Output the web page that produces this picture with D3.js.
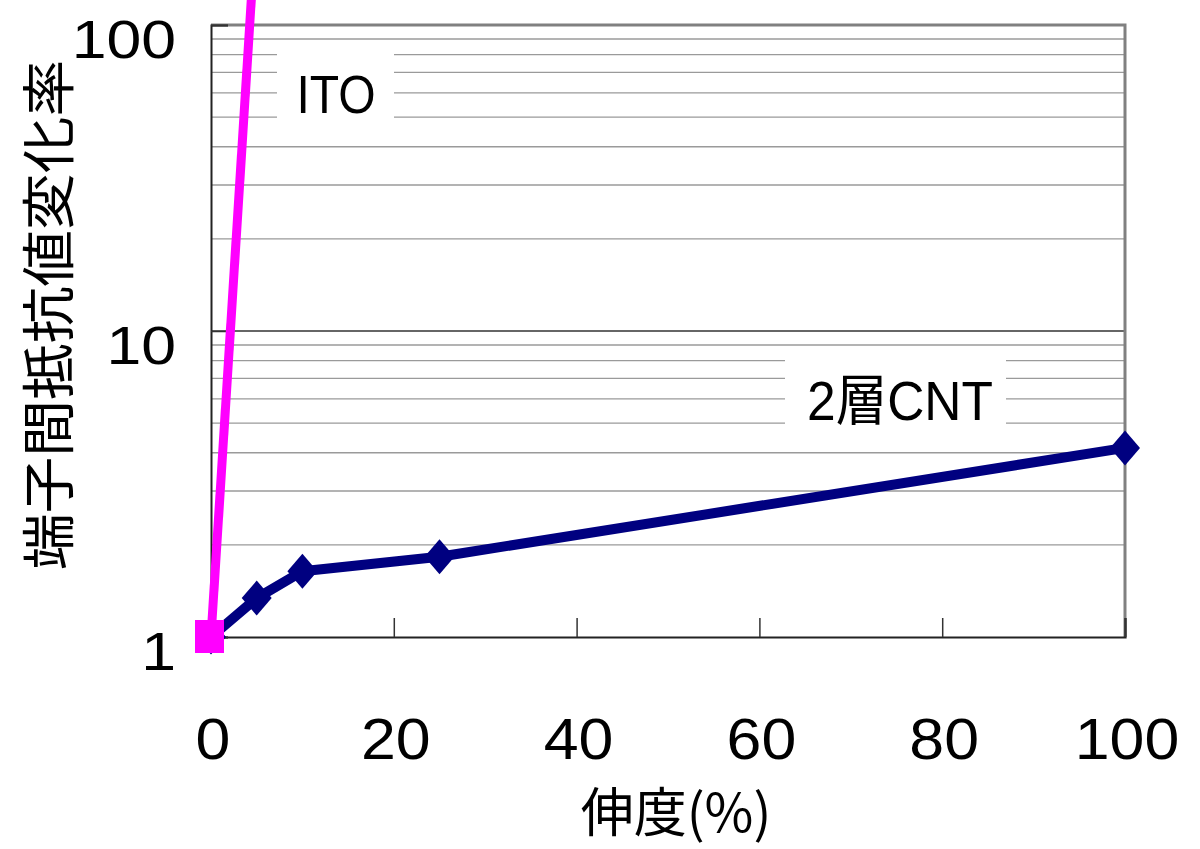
<!DOCTYPE html>
<html>
<head>
<meta charset="utf-8">
<script src="https://cdn.jsdelivr.net/npm/d3@7"></script>
<style>
  html, body { margin: 0; padding: 0; background: #fff; }
  svg { display: block; }
</style>
</head>
<body>
<svg id="chart" width="1200" height="849"></svg>
<script>
// Strain (%) and relative change of terminal resistance
const strain = [0, 5, 10, 25, 100];
const cntValues = [1, 1.34, 1.64, 1.83, 4.15];
const itoStrain = [0, 5];
const itoValues = [1, 230];
const xTickValues = [0, 20, 40, 60, 80, 100];
const yTickValues = [1, 10, 100];
const minorGridValues = [2, 3, 4, 5, 6, 7, 8, 9, 20, 30, 40, 50, 60, 70, 80, 90];
const seriesLabels = ["2層CNT", "ITO"];
const xTitle = "伸度(%)";
const yTitle = "端子間抵抗値変化率";

const W = 1200, H = 849;
const plot = { left: 211, right: 1125, top: 25, bottom: 637 };
const latin = "'Liberation Sans', Arial, 'Noto Sans CJK JP', sans-serif";
const cjk = "'Noto Sans CJK JP', 'Noto Sans CJK SC', sans-serif";

const svg = d3.select("#chart");
svg.append("rect").attr("width", W).attr("height", H).attr("fill", "#fff");

const x = d3.scaleLinear().domain([0, 100]).range([plot.left, plot.right]);
const y = d3.scaleLog().domain([1, 100]).range([plot.bottom, plot.top]);

// minor gridlines
svg.append("g")
  .selectAll("line")
  .data(minorGridValues)
  .join("line")
  .attr("x1", plot.left).attr("x2", plot.right)
  .attr("y1", d => y(d)).attr("y2", d => y(d))
  .attr("stroke", "#9a9a9a").attr("stroke-width", 1.4);

// major gridline at 10
svg.append("line")
  .attr("x1", plot.left).attr("x2", plot.right)
  .attr("y1", y(10)).attr("y2", y(10))
  .attr("stroke", "#333").attr("stroke-width", 1.6);

// label boxes (white backing over the grid)
const labelBoxes = [
  { text: seriesLabels[1], x0: 277, x1: 394, y0: 45, y1: 131, cx: 336, base: 113, size: 54, sx: 0.89 },
  { text: seriesLabels[0], x0: 785, x1: 1006, y0: 352, y1: 440, cx: 900, base: 420, size: 56, sx: 0.92 }
];
svg.append("g").selectAll("rect")
  .data(labelBoxes).join("rect")
  .attr("x", d => d.x0).attr("y", d => d.y0)
  .attr("width", d => d.x1 - d.x0).attr("height", d => d.y1 - d.y0)
  .attr("fill", "#fff");
svg.append("g").selectAll("text")
  .data(labelBoxes).join("text")
  .attr("transform", d => `translate(${d.cx},${d.base}) scale(${d.sx},1)`)
  .attr("text-anchor", "middle")
  .attr("font-family", latin)
  .attr("font-size", d => d.size)
  .attr("fill", "#000")
  .text(d => d.text);

// frame: top and right borders
svg.append("path")
  .attr("d", `M${plot.left},${plot.top}H${plot.right}V${plot.bottom}`)
  .attr("fill", "none").attr("stroke", "#808080").attr("stroke-width", 3);

// x axis (ticks pointing into the plot)
const xAxis = d3.axisBottom(x).tickValues(xTickValues).tickSize(-19).tickFormat("");
const gx = svg.append("g").attr("transform", `translate(0,${plot.bottom})`).call(xAxis);
gx.select(".domain").attr("stroke", "#222").attr("stroke-width", 2.2);
gx.selectAll(".tick line").attr("stroke", "#333").attr("stroke-width", 1.5);

// y axis (ticks pointing into the plot)
const yAxis = d3.axisLeft(y).tickValues(yTickValues).tickSize(-17).tickFormat("");
const gy = svg.append("g").attr("transform", `translate(${plot.left},0)`).call(yAxis);
gy.select(".domain").attr("stroke", "#222").attr("stroke-width", 2);
gy.selectAll(".tick line").attr("stroke", "#333").attr("stroke-width", 1.5);

// tick labels
svg.append("g").selectAll("text")
  .data(xTickValues).join("text")
  .attr("transform", d => `translate(${x(d) + 2},${plot.bottom + 122}) scale(1.08,1)`)
  .attr("text-anchor", "middle")
  .attr("font-family", latin).attr("font-size", 58)
  .text(d => d);
svg.append("g").selectAll("text")
  .data(yTickValues).join("text")
  .attr("transform", d => `translate(${plot.left - 35},${y(d) + 33}) scale(1.18,1)`)
  .attr("text-anchor", "end")
  .attr("font-family", latin).attr("font-size", 53)
  .text(d => d);

// series: 2層CNT
const line = d3.line().x(d => x(d[0])).y(d => y(d[1]));
const cntPts = strain.map((s, i) => [s, cntValues[i]]);
svg.append("path")
  .attr("d", line(cntPts))
  .attr("fill", "none").attr("stroke", "#000080").attr("stroke-width", 10)
  .attr("stroke-linejoin", "round");
svg.append("g").selectAll("path")
  .data(cntPts).join("path")
  .attr("d", d => {
    const cx = x(d[0]), cy = y(d[1]), w = 15, h = 17.5;
    return `M${cx},${cy - h}L${cx + w},${cy}L${cx},${cy + h}L${cx - w},${cy}Z`;
  })
  .attr("fill", "#000080");

// series: ITO
const itoPts = itoStrain.map((s, i) => [s, itoValues[i]]);
svg.append("path")
  .attr("d", line(itoPts))
  .attr("fill", "none").attr("stroke", "#ff00ff").attr("stroke-width", 9);
svg.append("g").selectAll("rect")
  .data(itoPts).join("rect")
  .attr("x", d => x(d[0]) - 16).attr("y", d => y(d[1]) - 17)
  .attr("width", 29).attr("height", 33)
  .attr("fill", "#ff00ff");

// axis titles
svg.append("text")
  .attr("transform", `translate(${676},${832})`)
  .attr("text-anchor", "middle")
  .attr("font-family", cjk).attr("font-size", 53)
  .text(xTitle);
svg.append("text")
  .attr("transform", `translate(${46},${315}) rotate(-90) scale(1.05,1)`)
  .attr("text-anchor", "middle")
  .attr("dominant-baseline", "central")
  .attr("font-family", cjk).attr("font-size", 54)
  .text(yTitle);
</script>
</body>
</html>
